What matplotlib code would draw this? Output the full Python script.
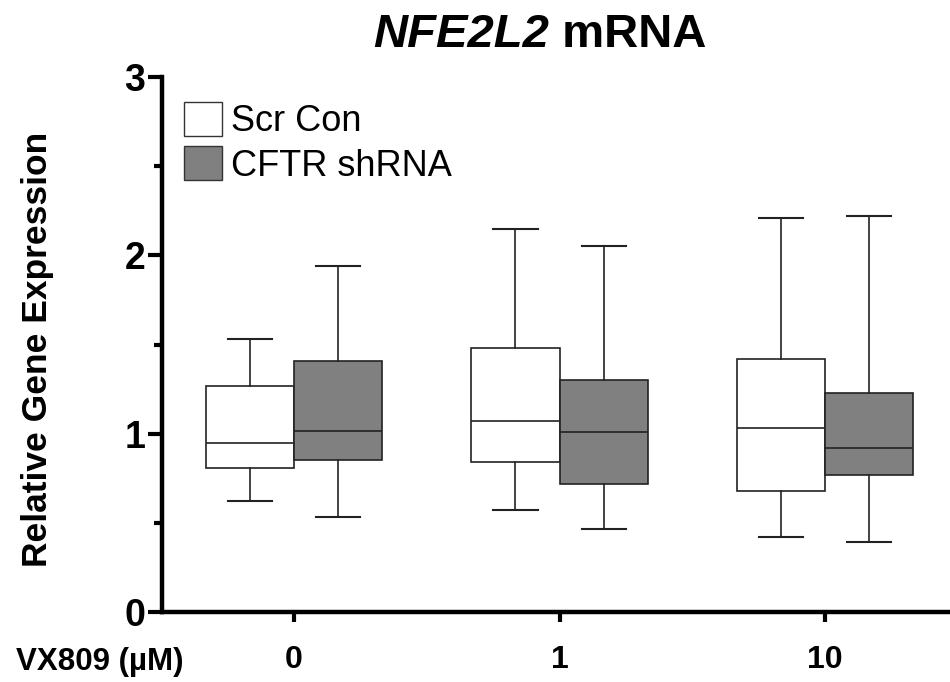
import matplotlib
matplotlib.use("Agg")
import matplotlib.pyplot as plt
from matplotlib.patches import Patch

plt.rcParams['font.family'] = ['Liberation Sans', 'DejaVu Sans']

categories = ["0", "1", "10"]
series = ["Scr Con", "CFTR shRNA"]
colors = ["#ffffff", "#808080"]

# whisker low, Q1, median, Q3, whisker high
scr_low = [0.62, 0.57, 0.42]
scr_q1 = [0.81, 0.84, 0.68]
scr_med = [0.95, 1.07, 1.03]
scr_q3 = [1.27, 1.48, 1.42]
scr_high = [1.53, 2.15, 2.21]

cftr_low = [0.53, 0.465, 0.39]
cftr_q1 = [0.85, 0.72, 0.77]
cftr_med = [1.015, 1.01, 0.92]
cftr_q3 = [1.41, 1.30, 1.23]
cftr_high = [1.94, 2.05, 2.22]

yticks = [0, 1, 2, 3]

fig = plt.figure(figsize=(9.5, 6.82), dpi=100)
ax = fig.add_axes([162/950, 70/682, 1 - 162/950, 535/682])

w = 0.332
data = [
    (scr_low, scr_q1, scr_med, scr_q3, scr_high),
    (cftr_low, cftr_q1, cftr_med, cftr_q3, cftr_high),
]
for si, (lo, q1, med, q3, hi) in enumerate(data):
    stats = []
    for i in range(len(categories)):
        stats.append(dict(whislo=lo[i], q1=q1[i], med=med[i], q3=q3[i], whishi=hi[i], fliers=[]))
    off = -w/2 if si == 0 else w/2
    pos = [i + off for i in range(len(categories))]
    ax.bxp(stats, positions=pos, widths=w, patch_artist=True, showfliers=False,
           boxprops=dict(facecolor=colors[si], edgecolor="#222222", linewidth=1.2),
           medianprops=dict(color="#222222", linewidth=1.2),
           whiskerprops=dict(color="#222222", linewidth=1.2),
           capprops=dict(color="#222222", linewidth=1.5),
           capwidths=w/2)

ax.set_xlim(-0.497, 2.47)
ax.set_ylim(0, 3)
ax.set_xticks(range(len(categories)))
ax.set_xticklabels(categories, fontsize=23, fontweight='bold')
ax.set_yticks(yticks)
ax.set_yticklabels([str(t) for t in yticks], fontsize=27, fontweight='bold')
ax.set_yticks([0.5, 1.5, 2.5], minor=True)
ax.tick_params(axis='y', which='major', length=10, width=3, pad=2)
ax.tick_params(axis='y', which='minor', length=6, width=3)
ax.tick_params(axis='x', which='major', length=7, width=3, pad=17)
for s in ['top', 'right']:
    ax.spines[s].set_visible(False)
for s in ['left', 'bottom']:
    ax.spines[s].set_linewidth(3.2)
ax.spines['left'].set_capstyle('projecting')

ax.set_ylabel("Relative Gene Expression", fontsize=25.5, fontweight='bold')
ax.yaxis.set_label_coords(-0.137, 0.49)

fig.text(16/950, 1 - 662/682, "VX809 (µM)", fontsize=22.5, fontweight='bold', va='center', ha='left')

handles = [Patch(facecolor=colors[i], edgecolor="#333333", linewidth=1.0) for i in range(2)]
leg = ax.legend(handles, series, loc='upper left', bbox_to_anchor=(0.01, 0.98), frameon=False,
                fontsize=26, handlelength=1.05, handleheight=1.05, handletextpad=0.25,
                labelspacing=0.2, borderaxespad=0)

# title with italic gene name
fig.canvas.draw()
r = fig.canvas.get_renderer()
t1 = fig.text(0, 1 - 35/682, "NFE2L2", fontsize=34, fontweight='bold', style='italic', va='center', ha='left')
t2 = fig.text(0, 1 - 35/682, " mRNA", fontsize=34, fontweight='bold', va='center', ha='left')
w1 = t1.get_window_extent(r).width
w2 = t2.get_window_extent(r).width
cx = 540
x0 = cx - (w1 + w2) / 2
t1.set_x(x0 / 950)
t2.set_x((x0 + w1) / 950)

fig.savefig("out.png", dpi=100)
